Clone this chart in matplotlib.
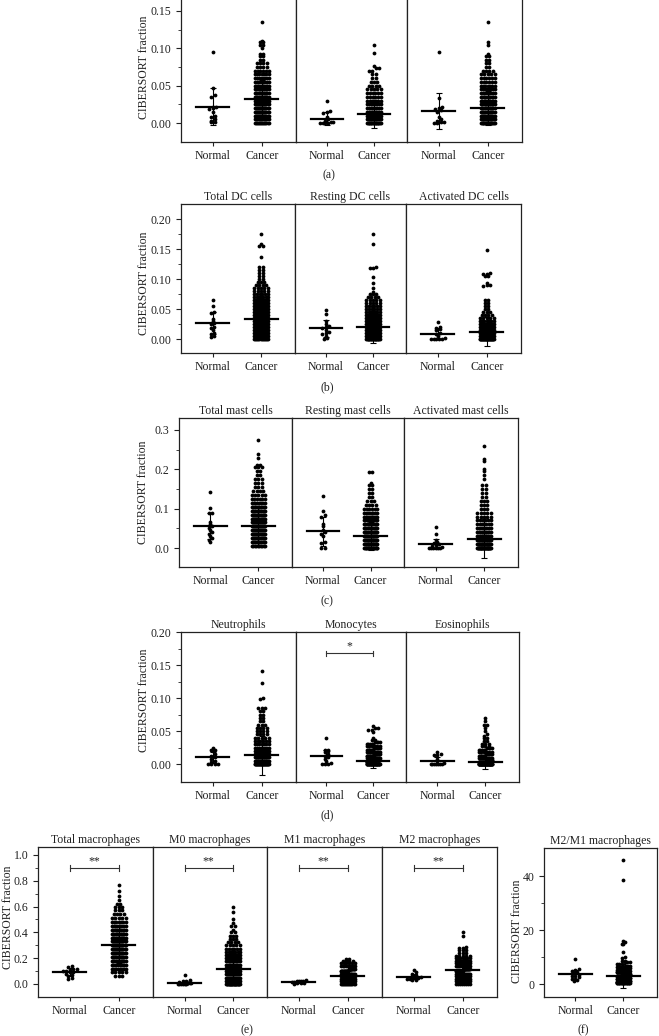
import matplotlib
matplotlib.use('Agg')
import matplotlib.pyplot as plt
import numpy as np

plt.rcParams['font.family'] = ['Liberation Serif', 'DejaVu Serif']
plt.rcParams['font.size'] = 8.5
plt.rcParams['text.color'] = '#222222'
plt.rcParams['xtick.color'] = '#222222'
plt.rcParams['ytick.color'] = '#222222'

W, H = 659, 1036

groups = ['Normal', 'Cancer']

# ---------------- (a) ----------------
a1_normal = [0.095, 0.047, 0.037, 0.035, 0.022, 0.021, 0.020, 0.019, 0.015, 0.010, 0.008, 0.005, 0.003, 0.002, 0.001]
a1_cancer_lv = [0.000, 0.005, 0.010, 0.015, 0.020, 0.025, 0.030, 0.035, 0.040, 0.045, 0.050, 0.055, 0.060, 0.065,
                0.070, 0.075, 0.080, 0.085, 0.090, 0.093, 0.100, 0.105, 0.108, 0.110, 0.135]
a1_cancer_n = [14, 12, 14, 14, 14, 14, 14, 13, 12, 11, 10, 9, 8, 7, 6, 4, 4, 2, 2, 2, 1, 2, 2, 1, 1]
a1_stats = [(0.022, 0.025), (0.032, 0.025)]

a2_normal = [0.030, 0.016, 0.015, 0.014, 0.008, 0.005, 0.003, 0.002, 0.001, 0.000, 0.000, 0.000, 0.000]
a2_cancer_lv = [0.000, 0.005, 0.010, 0.015, 0.020, 0.025, 0.030, 0.035, 0.040, 0.045, 0.050, 0.055, 0.060,
                0.065, 0.070, 0.074, 0.077, 0.094, 0.105]
a2_cancer_n = [20, 14, 12, 10, 9, 8, 7, 6, 6, 5, 4, 3, 2, 2, 2, 2, 1, 1, 1]
a2_stats = [(0.006, 0.009), (0.012, 0.019)]

a3_normal = [0.095, 0.033, 0.021, 0.020, 0.019, 0.018, 0.015, 0.008, 0.005, 0.003, 0.002, 0.001, 0.000, 0.000]
a3_cancer_lv = [0.000, 0.005, 0.010, 0.015, 0.020, 0.025, 0.030, 0.035, 0.040, 0.045, 0.050, 0.055, 0.060,
                0.065, 0.070, 0.075, 0.080, 0.085, 0.090, 0.093, 0.105, 0.108, 0.135]
a3_cancer_n = [18, 14, 14, 13, 12, 11, 11, 10, 9, 8, 7, 6, 6, 5, 4, 2, 2, 2, 2, 1, 1, 1, 1]
a3_stats = [(0.016, 0.024), (0.020, 0.023)]

# ---------------- (b) ----------------
b_titles = ['Total DC cells', 'Resting DC cells', 'Activated DC cells']
b1_normal = [0.065, 0.055, 0.045, 0.044, 0.033, 0.030, 0.027, 0.025, 0.020, 0.018, 0.015, 0.010, 0.008, 0.005, 0.003]
b1_cancer_lv = [0.000, 0.005, 0.010, 0.015, 0.020, 0.025, 0.030, 0.035, 0.040, 0.045, 0.050, 0.055, 0.060,
                0.065, 0.070, 0.075, 0.080, 0.085, 0.090, 0.095, 0.100, 0.105, 0.110, 0.115, 0.120, 0.137,
                0.155, 0.158, 0.175]
b1_cancer_n = [14, 14, 14, 14, 14, 13, 13, 12, 12, 11, 10, 9, 8, 8, 7, 6, 5, 5, 4, 3, 2, 2, 2, 2, 2, 1, 2, 1, 1]
b1_stats = [(0.027, 0.018), (0.033, 0.032)]

b2_normal = [0.048, 0.042, 0.030, 0.025, 0.022, 0.020, 0.018, 0.015, 0.012, 0.010, 0.008, 0.005, 0.002, 0.000]
b2_cancer_lv = [0.000, 0.005, 0.010, 0.015, 0.020, 0.025, 0.030, 0.035, 0.040, 0.045, 0.050, 0.055, 0.060,
                0.065, 0.070, 0.075, 0.078, 0.085, 0.093, 0.103, 0.118, 0.120, 0.158, 0.175]
b2_cancer_n = [22, 14, 13, 12, 12, 11, 10, 9, 8, 7, 6, 6, 5, 5, 4, 3, 1, 1, 1, 1, 2, 1, 1, 1]
b2_stats = [(0.018, 0.014), (0.020, 0.027)]

b3_normal = [0.028, 0.020, 0.018, 0.017, 0.015, 0.010, 0.008, 0.005, 0.002, 0.000, 0.000, 0.000, 0.000, 0.000]
b3_cancer_lv = [0.000, 0.005, 0.010, 0.015, 0.020, 0.025, 0.030, 0.035, 0.040, 0.045, 0.050, 0.055, 0.060,
                0.065, 0.088, 0.090, 0.093, 0.105, 0.108, 0.110, 0.149]
b3_cancer_n = [30, 18, 14, 12, 10, 8, 7, 5, 4, 3, 2, 2, 2, 2, 1, 2, 1, 2, 2, 1, 1]
b3_stats = [(0.009, 0.009), (0.012, 0.024)]

# ---------------- (c) ----------------
c_titles = ['Total mast cells', 'Resting mast cells', 'Activated mast cells']
c1_normal = [0.142, 0.101, 0.090, 0.088, 0.065, 0.060, 0.055, 0.050, 0.045, 0.040, 0.035, 0.030, 0.025, 0.020, 0.015]
c1_cancer_lv = [0.005, 0.015, 0.025, 0.035, 0.045, 0.055, 0.065, 0.075, 0.085, 0.095, 0.105, 0.115, 0.125,
                0.135, 0.145, 0.155, 0.165, 0.175, 0.185, 0.195, 0.205, 0.212, 0.230, 0.240, 0.275]
c1_cancer_n = [10, 12, 13, 14, 14, 14, 14, 14, 13, 12, 10, 8, 6, 5, 4, 3, 3, 3, 2, 2, 3, 2, 1, 1, 1]
c1_stats = [(0.057, 0.033), (0.057, 0.050)]

c2_normal = [0.132, 0.093, 0.085, 0.080, 0.060, 0.055, 0.045, 0.040, 0.035, 0.030, 0.015, 0.012, 0.000, 0.000]
c2_cancer_lv = [0.000, 0.010, 0.020, 0.030, 0.040, 0.050, 0.060, 0.070, 0.080, 0.090, 0.100, 0.110, 0.120,
                0.130, 0.140, 0.150, 0.160, 0.165, 0.193]
c2_cancer_n = [18, 16, 15, 14, 13, 12, 11, 10, 9, 8, 6, 4, 3, 2, 2, 2, 2, 1, 2]
c2_stats = [(0.042, 0.037), (0.030, 0.035)]

c3_normal = [0.053, 0.035, 0.020, 0.015, 0.012, 0.010, 0.008, 0.005, 0.003, 0.000, 0.000, 0.000, 0.000, 0.000, 0.000]
c3_cancer_lv = [0.00, 0.01, 0.02, 0.03, 0.04, 0.05, 0.06, 0.07, 0.08, 0.09, 0.10, 0.11, 0.12, 0.13, 0.14,
                0.15, 0.16, 0.175, 0.185, 0.195, 0.200, 0.220, 0.225, 0.260]
c3_cancer_n = [30, 20, 15, 12, 10, 8, 7, 6, 5, 5, 3, 3, 3, 2, 2, 2, 2, 1, 1, 1, 1, 1, 1, 1]
c3_stats = [(0.010, 0.013), (0.022, 0.047)]

# ---------------- (d) ----------------
d_titles = ['Neutrophils', 'Monocytes', 'Eosinophils']
d1_normal = [0.025, 0.022, 0.021, 0.020, 0.015, 0.012, 0.010, 0.008, 0.005, 0.003, 0.000, 0.000, 0.000, 0.000]
d1_cancer_lv = [0.000, 0.005, 0.010, 0.015, 0.020, 0.025, 0.030, 0.035, 0.040, 0.045, 0.050, 0.055, 0.060,
                0.065, 0.070, 0.075, 0.080, 0.085, 0.098, 0.101, 0.123, 0.141]
d1_cancer_n = [30, 20, 15, 12, 10, 8, 7, 6, 5, 4, 4, 4, 3, 2, 2, 2, 2, 3, 1, 1, 1, 1]
d1_stats = [(0.010, 0.009), (0.013, 0.030)]

d2_normal = [0.040, 0.022, 0.021, 0.020, 0.018, 0.015, 0.012, 0.010, 0.008, 0.005, 0.002, 0.000, 0.000, 0.000]
d2_cancer_lv = [0.000, 0.003, 0.006, 0.009, 0.012, 0.015, 0.018, 0.021, 0.024, 0.027, 0.030, 0.033, 0.036,
                0.040, 0.048, 0.052, 0.055, 0.057]
d2_cancer_n = [35, 20, 16, 14, 12, 10, 9, 8, 7, 6, 5, 4, 2, 1, 1, 2, 2, 1]
d2_stats = [(0.012, 0.010), (0.004, 0.010)]

d3_normal = [0.018, 0.015, 0.014, 0.013, 0.008, 0.005, 0.002, 0.000, 0.000, 0.000, 0.000, 0.000, 0.000, 0.000]
d3_cancer_lv = [0.000, 0.003, 0.006, 0.009, 0.012, 0.015, 0.018, 0.021, 0.024, 0.027, 0.030, 0.035, 0.040,
                0.043, 0.045, 0.050, 0.055, 0.060, 0.065, 0.070]
d3_cancer_n = [50, 20, 14, 10, 8, 7, 6, 5, 4, 3, 3, 2, 2, 1, 1, 1, 1, 2, 1, 1]
d3_stats = [(0.004, 0.006), (0.003, 0.011)]

# ---------------- (e) ----------------
e_titles = ['Total macrophages', 'M0 macrophages', 'M1 macrophages', 'M2 macrophages']
e1_normal = [0.14, 0.13, 0.12, 0.12, 0.11, 0.10, 0.10, 0.09, 0.09, 0.08, 0.07, 0.06, 0.05, 0.04]
e1_cancer_lv = [0.06, 0.09, 0.12, 0.15, 0.18, 0.21, 0.24, 0.27, 0.30, 0.33, 0.36, 0.39, 0.42, 0.45, 0.48,
                0.51, 0.54, 0.57, 0.60, 0.62, 0.65, 0.68, 0.72, 0.77]
e1_cancer_n = [3, 5, 8, 10, 12, 13, 14, 14, 14, 14, 13, 12, 11, 9, 7, 5, 4, 3, 3, 2, 1, 1, 1, 1]
e1_stats = [(0.094, 0.03), (0.305, 0.14)]

e2_normal = [0.07, 0.03, 0.02, 0.02, 0.015, 0.01, 0.01, 0.005, 0.0, 0.0, 0.0, 0.0, 0.0, 0.0]
e2_cancer_lv = [0.0, 0.025, 0.05, 0.075, 0.10, 0.125, 0.15, 0.175, 0.20, 0.225, 0.25, 0.275, 0.30, 0.325,
                0.35, 0.375, 0.40, 0.42, 0.45, 0.47, 0.50, 0.56, 0.60]
e2_cancer_n = [25, 18, 16, 15, 14, 13, 12, 11, 10, 8, 7, 6, 5, 4, 3, 3, 2, 1, 2, 1, 1, 1, 1]
e2_stats = [(0.008, 0.015), (0.115, 0.12)]

e3_normal = [0.03, 0.025, 0.02, 0.02, 0.02, 0.015, 0.015, 0.01, 0.01, 0.005, 0.0]
e3_cancer_lv = [0.0, 0.02, 0.04, 0.06, 0.08, 0.10, 0.12, 0.14, 0.16, 0.18, 0.19]
e3_cancer_n = [14, 18, 20, 20, 18, 15, 12, 9, 6, 4, 2]
e3_stats = [(0.018, 0.008), (0.063, 0.04)]

e4_normal = [0.11, 0.09, 0.08, 0.07, 0.06, 0.055, 0.05, 0.05, 0.045, 0.04, 0.035, 0.03, 0.03]
e4_cancer_lv = [0.0, 0.02, 0.04, 0.06, 0.08, 0.10, 0.12, 0.14, 0.16, 0.18, 0.20, 0.22, 0.24, 0.26, 0.28,
                0.29, 0.37, 0.40]
e4_cancer_n = [8, 12, 15, 16, 16, 16, 15, 13, 11, 9, 7, 5, 3, 3, 2, 1, 1, 1]
e4_stats = [(0.055, 0.02), (0.110, 0.07)]

# ---------------- (f) ----------------
f_normal = [9.2, 5.5, 5.3, 5.0, 4.5, 4.0, 3.5, 3.0, 2.8, 2.5, 2.0, 1.8, 1.5, 1.2]
f_cancer_lv = [0.3, 0.8, 1.3, 1.8, 2.3, 2.8, 3.3, 3.8, 4.3, 4.8, 5.3, 5.8, 6.3, 6.8, 7.3, 8.0, 8.5, 9.5,
               10.0, 12.0, 14.8, 15.0, 15.5, 16.0, 38.5, 46.0]
f_cancer_n = [20, 20, 18, 16, 14, 12, 11, 10, 9, 8, 7, 6, 5, 4, 3, 3, 2, 1, 1, 1, 1, 1, 1, 1, 1, 1]
f_stats = [(3.6, 1.7), (3.0, 4.5)]


def rect(x0, y0, x1, y1):
    return [x0 / W, 1 - y1 / H, (x1 - x0) / W, (y1 - y0) / H]


def beeswarm(ax, xc, values, row_h):
    v = np.sort(np.asarray(values, float))
    rows = np.round(v / row_h)
    xs, ys = [], []
    for r in np.unique(rows):
        sel = v[rows == r]
        k = len(sel)
        if k == 1:
            off = np.zeros(1)
        else:
            step = min(0.07, 0.28 / (k - 1))
            off = (np.arange(k) - (k - 1) / 2) * step
        xs.extend(xc + off)
        ys.extend(sel)
    ax.scatter(xs, ys, s=7.5, c='black', lw=0, zorder=2)


def draw_sub(ax, normal, cancer_lv, cancer_n, stats, ylim, row_h):
    cancer = np.repeat(cancer_lv, cancer_n)
    beeswarm(ax, 0, normal, row_h)
    beeswarm(ax, 1, cancer, row_h)
    for i, (m, sd) in enumerate(stats):
        ax.plot([i - 0.34, i + 0.34], [m, m], color='black', lw=1.6, zorder=3)
        ax.errorbar(i, m, yerr=sd, color='black', lw=0.8, capsize=2.5, capthick=0.8, zorder=3)
    ax.set_xlim(-0.65, 1.7)
    ax.set_ylim(*ylim)
    ax.set_xticks([0, 1])
    ax.set_xticklabels(groups)
    ax.tick_params(axis='x', direction='out', length=3, width=0.8, pad=3)
    for s in ax.spines.values():
        s.set_linewidth(0.9)
        s.set_color('#222222')


def bracket(ax, y, h, label):
    ax.plot([0, 1], [y, y], color='#333333', lw=0.8)
    ax.plot([0, 0], [y - h, y + h], color='#333333', lw=0.8)
    ax.plot([1, 1], [y - h, y + h], color='#333333', lw=0.8)
    ax.text(0.5, y + h * 0.3, label, ha='center', va='bottom', fontsize=8.5)


def row_of_axes(fig, xs, top, bottom, subs, ylim, row_h, major, minor, fmt, titles=None):
    axes = []
    for i, sub in enumerate(subs):
        ax = fig.add_axes(rect(xs[i], top, xs[i + 1], bottom))
        draw_sub(ax, *sub, ylim, row_h)
        if i == 0:
            ax.set_yticks(major)
            ax.set_yticks(minor, minor=True)
            ax.set_yticklabels([fmt.format(t) for t in major])
            ax.tick_params(axis='y', which='major', direction='out', length=3.5, width=0.8)
            ax.tick_params(axis='y', which='minor', direction='out', length=2, width=0.6)
        else:
            ax.set_yticks([])
            ax.set_yticks([], minor=True)
        if titles:
            ax.set_title(titles[i], fontsize=8.5, pad=3)
        axes.append(ax)
    return axes


fig = plt.figure(figsize=(W / 100, H / 100), dpi=100)

# (a)
row_of_axes(fig, [181, 296, 407, 522], -15, 142,
            [(a1_normal, a1_cancer_lv, a1_cancer_n, a1_stats),
             (a2_normal, a2_cancer_lv, a2_cancer_n, a2_stats),
             (a3_normal, a3_cancer_lv, a3_cancer_n, a3_stats)],
            (-0.0254, 0.1848), 0.004, [0, 0.05, 0.10, 0.15], [0.025, 0.075, 0.125, 0.175], '{:.2f}')
fig.text(144 / W, 1 - 67 / H, 'CIBERSORT fraction', rotation=90, ha='center', va='center')
fig.text(329 / W, 1 - 175 / H, '(a)', ha='center', va='center')

# (b)
row_of_axes(fig, [181, 295, 406, 521], 204, 353,
            [(b1_normal, b1_cancer_lv, b1_cancer_n, b1_stats),
             (b2_normal, b2_cancer_lv, b2_cancer_n, b2_stats),
             (b3_normal, b3_cancer_lv, b3_cancer_n, b3_stats)],
            (-0.0233, 0.225), 0.005, [0, 0.05, 0.10, 0.15, 0.20], [0.025, 0.075, 0.125, 0.175], '{:.2f}',
            b_titles)
fig.text(144 / W, 1 - 283 / H, 'CIBERSORT fraction', rotation=90, ha='center', va='center')
fig.text(327 / W, 1 - 387 / H, '(b)', ha='center', va='center')

# (c)
row_of_axes(fig, [179, 292, 404, 518], 418, 567,
            [(c1_normal, c1_cancer_lv, c1_cancer_n, c1_stats),
             (c2_normal, c2_cancer_lv, c2_cancer_n, c2_stats),
             (c3_normal, c3_cancer_lv, c3_cancer_n, c3_stats)],
            (-0.0483, 0.3305), 0.0075, [0, 0.1, 0.2, 0.3], [0.05, 0.15, 0.25], '{:.1f}', c_titles)
fig.text(143 / W, 1 - 492 / H, 'CIBERSORT fraction', rotation=90, ha='center', va='center')
fig.text(327 / W, 1 - 601 / H, '(c)', ha='center', va='center')

# (d)
d_axes = row_of_axes(fig, [181, 296, 406, 519], 632, 782,
                     [(d1_normal, d1_cancer_lv, d1_cancer_n, d1_stats),
                      (d2_normal, d2_cancer_lv, d2_cancer_n, d2_stats),
                      (d3_normal, d3_cancer_lv, d3_cancer_n, d3_stats)],
                     (-0.0273, 0.2005), 0.0045, [0, 0.05, 0.10, 0.15, 0.20], [0.025, 0.075, 0.125, 0.175],
                     '{:.2f}', d_titles)
bracket(d_axes[1], 0.168, 0.004, '*')
fig.text(144 / W, 1 - 700 / H, 'CIBERSORT fraction', rotation=90, ha='center', va='center')
fig.text(327 / W, 1 - 815 / H, '(d)', ha='center', va='center')

# (e)
e_axes = row_of_axes(fig, [38, 153, 267, 382, 497], 847, 997,
                     [(e1_normal, e1_cancer_lv, e1_cancer_n, e1_stats),
                      (e2_normal, e2_cancer_lv, e2_cancer_n, e2_stats),
                      (e3_normal, e3_cancer_lv, e3_cancer_n, e3_stats),
                      (e4_normal, e4_cancer_lv, e4_cancer_n, e4_stats)],
                     (-0.1008, 1.062), 0.022, [0, 0.2, 0.4, 0.6, 0.8, 1.0], [0.1, 0.3, 0.5, 0.7, 0.9],
                     '{:.1f}', e_titles)
for ax in e_axes:
    bracket(ax, 0.90, 0.025, '**')
fig.text(8 / W, 1 - 917 / H, 'CIBERSORT fraction', rotation=90, ha='center', va='center')
fig.text(247 / W, 1 - 1030 / H, '(e)', ha='center', va='center')

# (f)
row_of_axes(fig, [544, 657], 848, 997,
            [(f_normal, f_cancer_lv, f_cancer_n, f_stats)],
            (-4.8, 50.4), 1.1, [0, 20, 40], [10, 30], '{:.0f}', ['M2/M1 macrophages'])
fig.text(517 / W, 1 - 931 / H, 'CIBERSORT fraction', rotation=90, ha='center', va='center')
fig.text(583 / W, 1 - 1030 / H, '(f)', ha='center', va='center')

fig.savefig('out.png', dpi=100)
